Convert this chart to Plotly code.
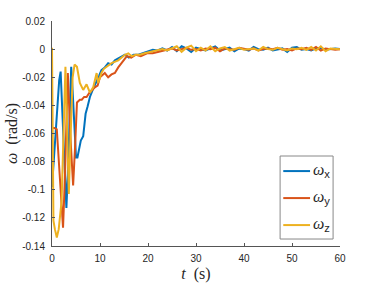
import plotly.graph_objects as go

# ---- data ----
tail_t = [23, 24, 25, 26, 27, 28, 29, 30, 31, 32, 33, 34, 35, 36, 37, 38, 39, 40, 41, 42,
          43, 44, 45, 46, 47, 48, 49, 50, 51, 52, 53, 54, 55, 56, 57, 58, 59, 60]

wx_t = [0, 0.5, 1.0, 1.5, 1.8, 2.2, 2.6, 3.0, 3.4, 3.7, 4.0, 4.3, 4.7, 5.0, 5.3, 5.7, 6.0,
        6.5, 7.0, 7.4, 7.9, 8.6, 9.3, 9.8, 10.3, 11.0, 11.7, 12.4, 13.1, 14.2, 15.2, 16.0,
        17.0, 18.0, 19.0, 20.0, 21.0, 22.0]
wx_v = [-0.098, -0.075, -0.045, -0.022, -0.016, -0.05, -0.09, -0.113, -0.08, -0.04, -0.0125,
        -0.03, -0.06, -0.077, -0.077, -0.070, -0.065, -0.062, -0.046, -0.041, -0.034, -0.028,
        -0.022, -0.019, -0.015, -0.013, -0.010, -0.011, -0.008, -0.006, -0.004, -0.006,
        -0.004, -0.004, -0.003, -0.002, -0.0005, -0.001]
wx_tail = [0.0005, -0.001, 0.0015, -0.0015, 0.002, 0.0005, -0.002, 0.001, 0.0, -0.001,
           0.0005, 0.002, -0.001, 0.0, 0.001, -0.0015, 0.0005, 0.0, -0.001, 0.0015, 0.0,
           -0.0005, 0.001, -0.001, 0.0, 0.0005, -0.002, 0.001, 0.0015, -0.0005, 0.0, -0.001,
           0.0005, 0.001, -0.0005, 0.0, 0.0005, 0.0]

wy_t = [0, 0.5, 1.0, 1.5, 2.0, 2.3, 2.7, 3.0, 3.3, 3.8, 4.4, 4.8, 5.2, 5.8, 6.2, 6.7, 7.2,
        7.8, 8.3, 9.0, 9.5, 10.0, 11.0, 11.7, 12.4, 13.1, 13.8, 14.5, 15.6, 16.5, 17.5,
        18.5, 19.8, 21.0, 22.0]
wy_v = [-0.056, -0.056, -0.057, -0.085, -0.115, -0.127, -0.09, -0.045, -0.017, -0.06, -0.097,
        -0.07, -0.038, -0.036, -0.036, -0.034, -0.034, -0.031, -0.029, -0.027, -0.026,
        -0.020, -0.017, -0.020, -0.018, -0.017, -0.013, -0.010, -0.005, -0.006, -0.004,
        -0.005, -0.003, -0.003, -0.002]
wy_tail = [-0.001, -0.0005, 0.0005, -0.001, 0.0, 0.001, -0.0005, 0.0, -0.001, 0.0005, 0.0,
           0.001, -0.0015, 0.0005, 0.0, -0.0005, 0.001, 0.0, -0.0005, 0.0005, -0.001, 0.0,
           0.0005, 0.0, 0.001, -0.0005, 0.0, -0.001, 0.0005, 0.0, 0.001, -0.0005, 0.0015,
           -0.001, 0.0005, 0.0, -0.0005, 0.0]

wz_t = [0, 0.15, 0.3, 0.6, 1.0, 1.4, 2.0, 2.4, 2.8, 3.1, 3.5, 3.9, 4.3, 4.7, 5.2, 5.8,
        6.5, 7.2, 7.9, 8.6, 9.3, 9.6, 10.3, 10.8, 11.4, 12.4, 13.8, 15.2, 15.9, 16.6,
        17.5, 18.3, 19.3, 20.4, 21.5, 22.5]
wz_v = [0.001, -0.06, -0.122, -0.128, -0.134, -0.128, -0.108, -0.06, -0.0125, -0.05, -0.103,
        -0.06, -0.02, -0.011, -0.0125, -0.024, -0.029, -0.025, -0.031, -0.027, -0.017, -0.024,
        -0.017, -0.014, -0.0125, -0.010, -0.008, -0.004, -0.003, -0.005, -0.004, -0.004,
        -0.003, -0.002, -0.001, -0.0005]
wz_tail = [0.0, -0.001, 0.0005, 0.002, -0.002, 0.001, 0.0025, -0.0015, 0.001, -0.001, 0.002,
           -0.0015, 0.0005, 0.0015, -0.001, 0.0, 0.001, -0.0005, 0.0, 0.0005, -0.001, 0.0015,
           0.0, -0.0005, 0.001, 0.0, -0.001, 0.0005, 0.0, 0.001, -0.0005, 0.0015, -0.001,
           0.002, -0.0015, 0.0005, 0.0, 0.0]

x_ticks = [0, 10, 20, 30, 40, 50, 60]
y_ticks = [0.02, 0, -0.02, -0.04, -0.06, -0.08, -0.1, -0.12, -0.14]
y_tick_text = ["0.02", "0", "-0.02", "-0.04", "-0.06", "-0.08", "-0.1", "-0.12", "-0.14"]

series = [
    ("x", wx_t + tail_t, wx_v + wx_tail, "#0072BD"),
    ("y", wy_t + tail_t, wy_v + wy_tail, "#D95319"),
    ("z", wz_t + tail_t, wz_v + wz_tail, "#EDB120"),
]

SANS = "Liberation Sans, Arial, sans-serif"
SERIF = "Liberation Serif, DejaVu Serif, serif"

fig = go.Figure()
for name, t, v, col in series:
    fig.add_trace(go.Scatter(
        x=t, y=v, mode="lines", name="ω" + name, showlegend=False,
        line=dict(color=col, width=2),
    ))

# legend box drawn as in the MATLAB figure (paper coordinates)
leg_x0, leg_x1, leg_y0, leg_y1 = 0.792, 0.976, 0.031, 0.400
leg_rows = [0.333, 0.213, 0.093]
shapes = [dict(type="rect", xref="paper", yref="paper", x0=leg_x0, x1=leg_x1,
               y0=leg_y0, y1=leg_y1, line=dict(color="#888888", width=1),
               fillcolor="white", layer="above")]
annotations = []
for (name, _, _, col), yy in zip(series, leg_rows):
    shapes.append(dict(type="line", xref="paper", yref="paper", x0=0.803, x1=0.896,
                       y0=yy, y1=yy, line=dict(color=col, width=2), layer="above"))
    annotations.append(dict(
        xref="paper", yref="paper", x=0.900, y=yy + 0.004, xanchor="left", yanchor="middle",
        showarrow=False,
        text=f"<i>ω</i><sub><span style='font-family:Liberation Sans,Arial,sans-serif'>{name}</span></sub>",
        font=dict(family=SERIF, size=16, color="#262626"),
    ))

axis_common = dict(
    showgrid=False, zeroline=False, showline=True, linecolor="#555555", linewidth=1,
    ticks="inside", ticklen=3, tickcolor="#555555", mirror=False, automargin=False,
    tickfont=dict(family=SANS, size=10, color="#262626"),
)

fig.update_layout(
    width=376, height=283,
    margin=dict(l=52, r=36, t=21, b=37),
    paper_bgcolor="white", plot_bgcolor="white",
    showlegend=False,
    shapes=shapes, annotations=annotations,
)
fig.update_xaxes(range=[0, 60], tickvals=x_ticks, ticklabelstandoff=3,
                 title=dict(text="<i>t</i>  (s)", standoff=4,
                            font=dict(family=SERIF, size=16, color="#262626")),
                 **axis_common)
fig.update_yaxes(range=[-0.14, 0.02], tickvals=y_ticks, ticktext=y_tick_text,
                 ticklabelstandoff=4,
                 title=dict(text="<i>ω</i>  (rad/s)", standoff=0,
                            font=dict(family=SERIF, size=16, color="#262626")),
                 **axis_common)

fig.write_html("out.html", config={"displayModeBar": False},
               post_script="document.body.style.margin='0';")
